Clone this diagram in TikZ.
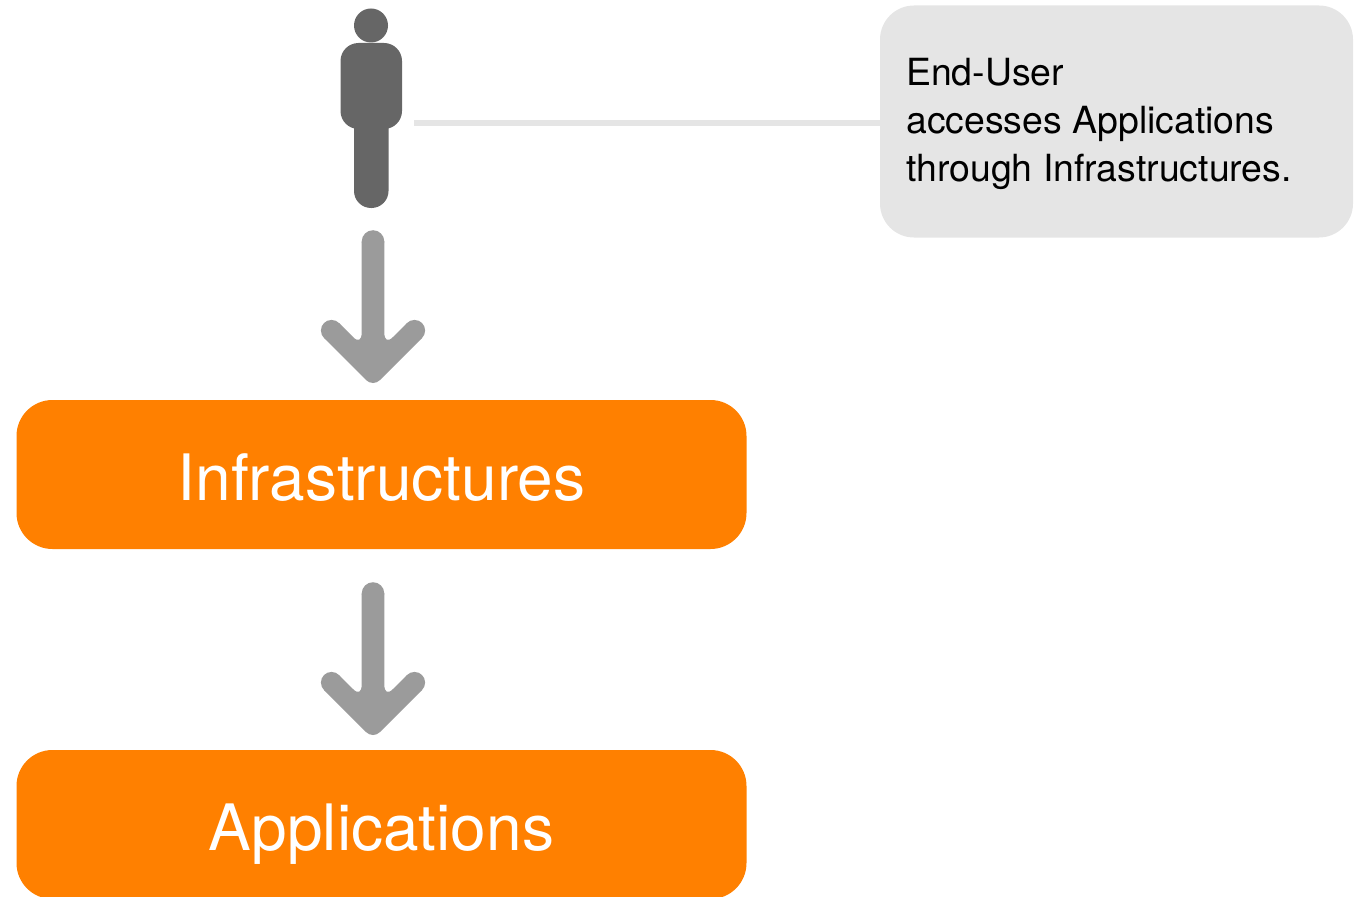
\documentclass[tikz,border=0pt]{standalone}
\usepackage{fontspec}
\setmainfont{TeX Gyre Heros}
\definecolor{orangeb}{HTML}{FF8000}
\definecolor{arrowg}{HTML}{9B9B9B}
\definecolor{callout}{HTML}{E5E5E5}
\definecolor{persong}{HTML}{666666}
\tikzset{x=1pt,y=-1pt,
 box/.style={fill=orangeb,rounded corners=36pt,minimum width=730pt,minimum height=149pt,inner sep=0pt,text=white,font=\fontsize{64}{64}\selectfont},
 fatarrow/.pic={
  \fill[arrowg] (0,-130.5) circle (11.3pt);
  \fill[arrowg] (-41.5,-41.5) circle (10.6pt) (41.5,-41.5) circle (10.6pt);
  \fill[arrowg] (-11.3,-130.5) -- (11.3,-130.5) -- (11.3,-40) .. controls (11.3,-31) and (15,-30) .. (20,-35) -- (34,-49) -- (49,-34) -- (7,8) .. controls (3,12) and (-3,12) .. (-7,8) -- (-49,-34) -- (-34,-49) -- (-20,-35) .. controls (-15,-30) and (-11.3,-31) .. (-11.3,-40) -- cycle;
 }}
\begin{document}
\begin{tikzpicture}
\useasboundingbox (0,0) rectangle (1356,896);
\begin{scope}
\clip (0,0) rectangle (1356,896);
\node[box] (infra) at (381.5,474.5) {\raisebox{-25.5pt}[0pt][0pt]{Infrastructures}};
\node[box] (apps) at (381.5,824.5) {\raisebox{-25.5pt}[0pt][0pt]{Applications}};
\end{scope}
\node[fill=callout,rounded corners=34pt,minimum width=473pt,minimum height=232pt,inner sep=0pt] (note) at (1116.5,121.5) {};
\node[anchor=west,align=left,inner sep=0pt,font=\fontsize{37.4}{48}\selectfont] (notetext) at (906,124) {End-User\\accesses Applications\\through Infrastructures.};
\coordinate (personr) at (414,123);
\draw[callout,line width=6pt] (personr) -- (note.west |- personr);
% person
\fill[persong] (371,25.5) circle (17pt);
\fill[persong,rounded corners=18pt] (340.5,43) rectangle (402,129);
\fill[persong,rounded corners=17pt] (354,100) rectangle (388.5,208);
% arrows
\pic at (373,372) {fatarrow};
\pic at (373,724) {fatarrow};
\end{tikzpicture}
\end{document}
